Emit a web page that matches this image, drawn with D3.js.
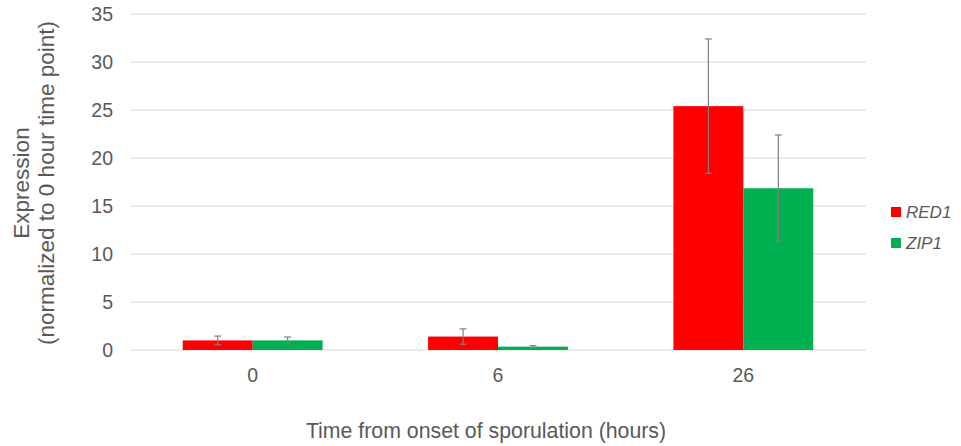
<!DOCTYPE html>
<html>
<head>
<meta charset="utf-8">
<script src="https://cdn.jsdelivr.net/npm/d3@7"></script>
<style>
  html, body { margin: 0; padding: 0; background: #fff; }
  svg { display: block; font-family: "Liberation Sans", Arial, sans-serif; }
</style>
</head>
<body>
<svg id="chart" width="961" height="446"></svg>
<script>
// Time points (hours) and gene expression series
const categories = ["0", "6", "26"];
const seriesNames = ["RED1", "ZIP1"];
const red1Values = [1.0, 1.4, 25.4];
const red1Errors = [0.45, 0.8, 7.0];
const zip1Values = [1.0, 0.35, 16.85];
const zip1Errors = [0.35, 0.1, 5.55];
const yTicks = [0, 5, 10, 15, 20, 25, 30, 35];
const colors = ["#ff0000", "#00b050"];

const series = [
  { name: seriesNames[0], values: red1Values, errors: red1Errors, color: colors[0] },
  { name: seriesNames[1], values: zip1Values, errors: zip1Errors, color: colors[1] }
];

const svg = d3.select("#chart");
const margin = { left: 130, right: 95, top: 14, bottom: 96 };
const width = 961 - margin.left - margin.right;
const height = 446 - margin.top - margin.bottom;

const g = svg.append("g").attr("transform", `translate(${margin.left},${margin.top})`);

const x = d3.scaleBand().domain(categories).range([0, width]).paddingInner(0.43).paddingOuter(0.215);
const xSub = d3.scaleBand().domain(seriesNames).range([0, x.bandwidth()]);
const y = d3.scaleLinear().domain([0, 35]).range([height, 0]);

// Horizontal gridlines
g.append("g")
  .selectAll("line")
  .data(yTicks)
  .join("line")
  .attr("x1", 0).attr("x2", width)
  .attr("y1", d => y(d)).attr("y2", d => y(d))
  .attr("stroke", "#d9d9d9").attr("stroke-width", 1);

// Y axis labels
const yAxis = g.append("g").call(d3.axisLeft(y).tickValues(yTicks).tickSize(0).tickPadding(17));
yAxis.select(".domain").remove();
yAxis.selectAll("text").attr("fill", "#595959").style("font-size", "19.5px").attr("font-family", "Liberation Sans, Arial, sans-serif");

// X axis labels
const xAxis = g.append("g").attr("transform", `translate(0,${height})`)
  .call(d3.axisBottom(x).tickSize(0).tickPadding(18));
xAxis.select(".domain").remove();
xAxis.selectAll("text").attr("fill", "#595959").style("font-size", "19.5px").attr("font-family", "Liberation Sans, Arial, sans-serif");

// Bars
const groups = g.selectAll(".grp")
  .data(categories)
  .join("g")
  .attr("transform", d => `translate(${x(d)},0)`);

series.forEach(s => {
  groups.append("rect")
    .attr("x", xSub(s.name))
    .attr("width", xSub.bandwidth())
    .attr("y", (d, i) => y(s.values[i]))
    .attr("height", (d, i) => y(0) - y(s.values[i]))
    .attr("fill", s.color);
});

// Error bars
series.forEach(s => {
  const cx = xSub(s.name) + xSub.bandwidth() / 2;
  const eb = groups.append("g").attr("stroke", "#7f7f7f").attr("stroke-width", 1.2);
  eb.append("line")
    .attr("x1", cx).attr("x2", cx)
    .attr("y1", (d, i) => y(s.values[i] + s.errors[i]))
    .attr("y2", (d, i) => y(s.values[i] - s.errors[i]));
  [1, -1].forEach(sign => {
    eb.append("line")
      .attr("x1", cx - 3.5).attr("x2", cx + 3.5)
      .attr("y1", (d, i) => y(s.values[i] + sign * s.errors[i]))
      .attr("y2", (d, i) => y(s.values[i] + sign * s.errors[i]));
  });
});

// Legend
const legend = svg.append("g").attr("transform", "translate(891,207)");
series.forEach((s, i) => {
  const row = legend.append("g").attr("transform", `translate(0,${i * 31})`);
  row.append("rect").attr("x", 0).attr("y", 0).attr("width", 10).attr("height", 10).attr("fill", s.color);
  row.append("text")
    .attr("x", 15).attr("y", 11)
    .attr("fill", "#595959")
    .style("font-size", "17px")
    .style("font-style", "italic")
    .text(s.name);
});

// Axis titles
svg.append("text")
  .attr("x", 486).attr("y", 438)
  .attr("text-anchor", "middle")
  .attr("fill", "#595959")
  .style("font-size", "21.3px")
  .text("Time from onset of sporulation (hours)");

const yt = svg.append("text")
  .attr("transform", "translate(29,183) rotate(-90)")
  .attr("text-anchor", "middle")
  .attr("fill", "#595959")
  .style("font-size", "22.5px");
yt.append("tspan").attr("x", 0).attr("dy", 0).text("Expression");
yt.append("tspan").attr("x", 0).attr("dy", 24.5).text("(normalized to 0 hour time point)");
</script>
</body>
</html>
